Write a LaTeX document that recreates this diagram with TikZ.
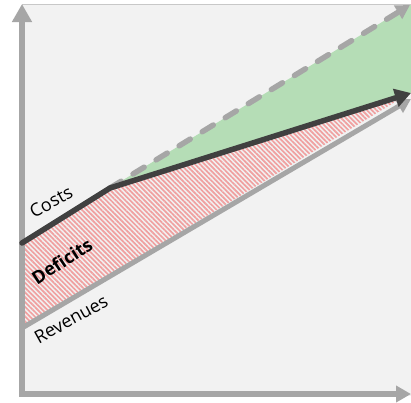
\documentclass[tikz,border=0pt]{standalone}
\usepackage{fontspec}
\setmainfont{Open Sans}
\usetikzlibrary{arrows.meta,patterns.meta}
\definecolor{bggray}{RGB}{242,242,242}
\definecolor{axisgray}{RGB}{166,166,166}
\definecolor{costdark}{RGB}{64,64,64}
\definecolor{gainfill}{RGB}{181,221,182}
\definecolor{hatchred}{RGB}{240,160,160}
\definecolor{framegray}{RGB}{200,200,200}
\tikzset{
  axisline/.style={draw=axisgray, line width=6pt, -{Triangle[length=18pt,width=19pt]}},
  revline/.style={draw=axisgray, line width=5pt, line cap=round, -{Triangle[length=14pt,width=15pt]}},
  costline/.style={draw=costdark, line width=5.5pt, line cap=round, line join=round, -{Triangle[length=16pt,width=18pt]}},
  dashline/.style={draw=axisgray, line width=5.5pt, line cap=round, dash pattern=on 13pt off 14pt, -{Triangle[length=14pt,width=15pt]}},
  lbl/.style={font=\fontsize{18}{20}\selectfont, inner sep=0pt},
}
\begin{document}
\begin{tikzpicture}[x=1pt,y=-1pt]
\useasboundingbox (0,0) rectangle (411,402);
\fill[white] (0,0) rectangle (411,402);
% background panel
\fill[bggray] (22,4) rectangle (411,396);
\draw[framegray, line width=0.8pt] (22,4) -- (411,4);
% key points
\coordinate (c0) at (22,243);
\coordinate (ck) at (110,188);
\coordinate (c1) at (411,93);
\coordinate (r0) at (22,328);
\coordinate (r1) at (411,99);
\coordinate (d1) at (410,5);
\coordinate (o) at (22,394);
\coordinate (ytop) at (22,4);
\coordinate (xend) at (411,394);
% green gain area
\fill[gainfill] (ck) -- (d1) -- (411,5) -- (411,93) -- cycle;
% deficit hatch
\fill[pattern={Lines[angle=-45,distance=3.4pt,line width=1.7pt]}, pattern color=hatchred]
  (c0) -- (ck) -- (405,96) -- (r0) -- cycle;
% axes
\draw[axisline] (o) -- (ytop);
\draw[axisline, -{Triangle[length=15pt,width=16pt]}] (19,394) -- (xend);
% lines
\draw[dashline] (ck) -- (d1);
\draw[revline] (r0) -- (r1);
\draw[costline] (c0) -- (ck) -- (c1);
% labels
\node[lbl, rotate=28] (costs) at (51,202) {Costs};
\node[lbl, rotate=33, font=\fontsize{18}{20}\selectfont\bfseries] (deficits) at (62,261) {Deficits};
\node[lbl, rotate=29] (revenues) at (71,319) {Revenues};
\end{tikzpicture}
\end{document}
